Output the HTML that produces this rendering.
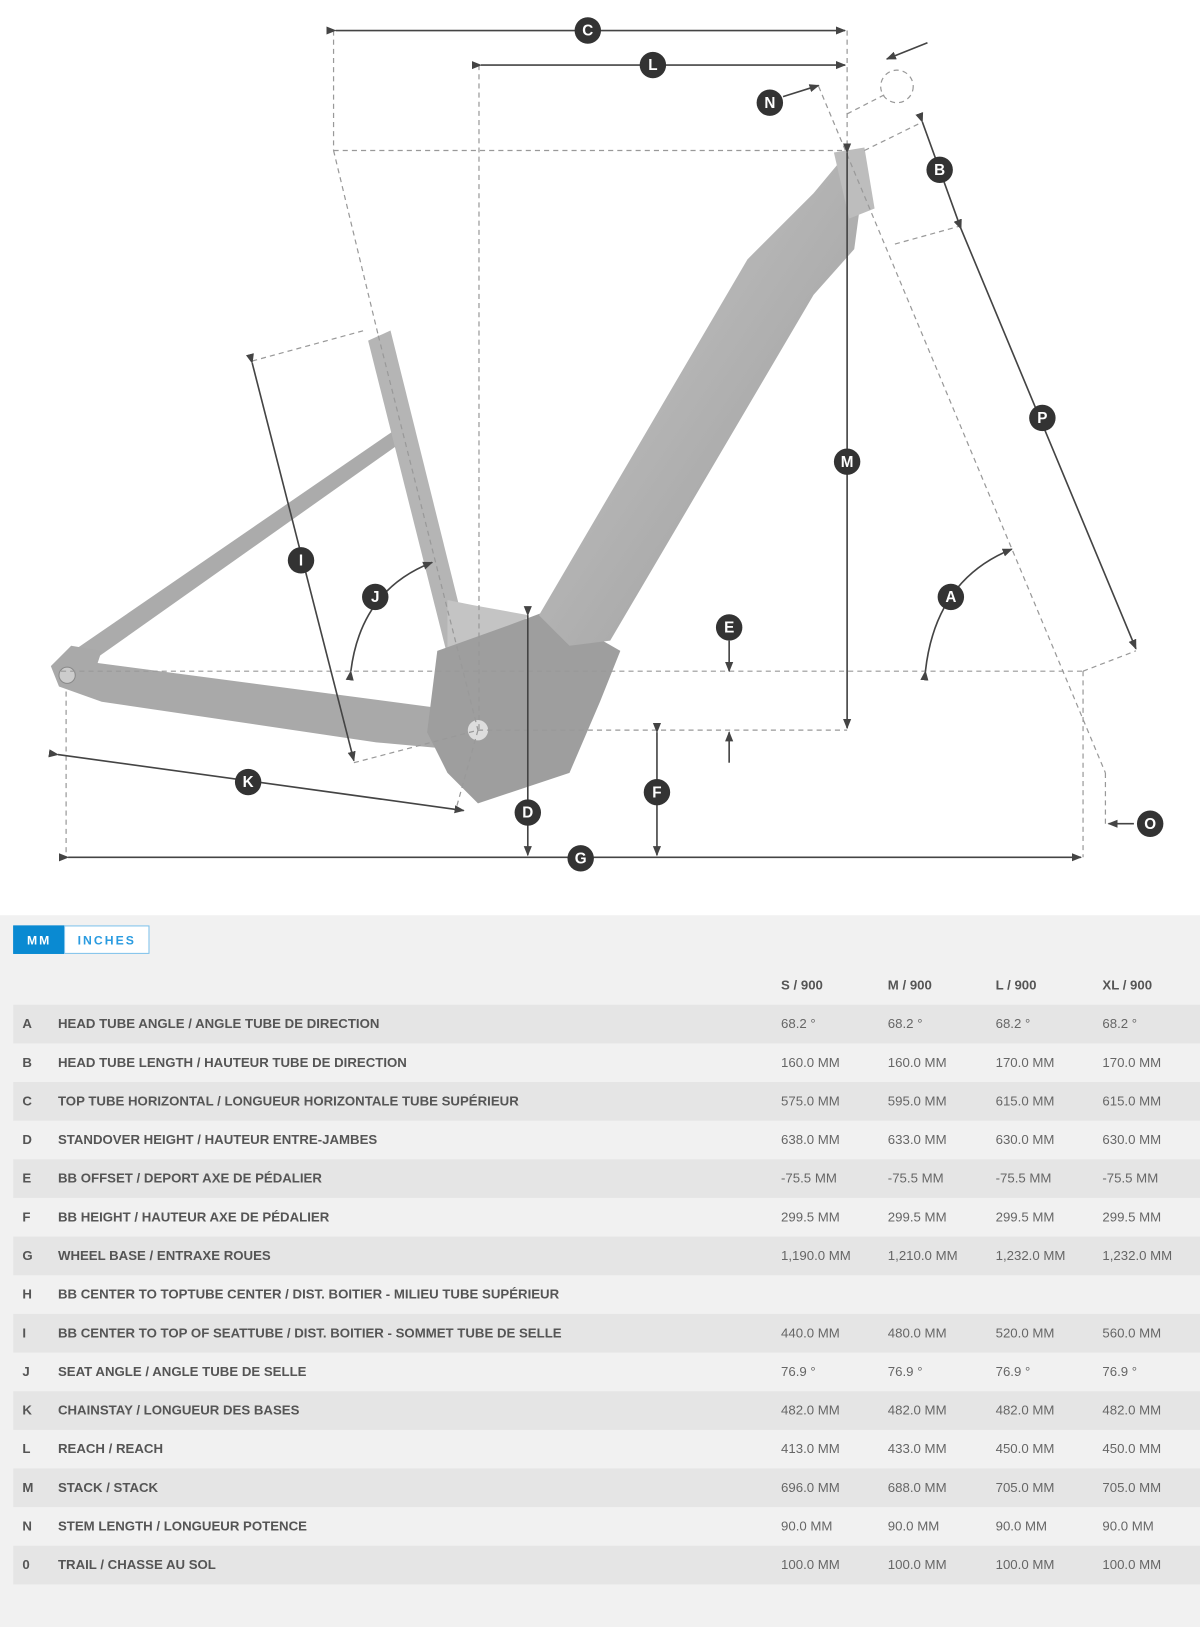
<!DOCTYPE html>
<html><head><meta charset="utf-8"><style>
body{margin:0;width:1200px;height:1594px;background:#fff;font-family:"Liberation Sans",sans-serif;position:relative;overflow:hidden}
#wrap{position:absolute;left:0;top:0;width:1180px;height:1568px;transform:scale(1.01695);transform-origin:0 0}
#diag{position:absolute;left:0;top:0}
#tbl{position:absolute;left:0;top:900px;width:1180px;height:700px;background:#f1f1f1}
.btn{position:absolute;top:910px;height:28px;font-size:12px;font-weight:bold;letter-spacing:2px;line-height:28px;box-sizing:border-box}
.row{position:absolute;left:13px;width:1167px;height:38px;line-height:38px;font-size:13px;color:#666}
.row.d{background:#e5e5e5}
.row span{position:absolute}
.l1{left:9px;font-weight:bold;color:#555}
.l2{left:44px;font-weight:bold;color:#555}
.c1{left:755px}.c2{left:860px}.c3{left:966px}.c4{left:1071px}
.hd span{font-weight:bold;color:#555}
</style></head><body><div id="wrap">
<svg id="diag" width="1180" height="900" viewBox="0 0 1180 900" font-family="Liberation Sans" >
<defs>
<marker id="a" markerWidth="10" markerHeight="10" refX="9" refY="5" orient="auto" markerUnits="userSpaceOnUse"><path d="M0,1 L10,5 L0,9 z" fill="#444"/></marker>
<linearGradient id="g1" x1="0" y1="0" x2="1" y2="1"><stop offset="0" stop-color="#c8c8c8"/><stop offset="1" stop-color="#9a9a9a"/></linearGradient>
</defs>
<g fill="#a9a9a9" stroke="none">
<polygon points="72,640 385,425 392,437 88,652" fill="#ababab"/>
<polygon points="50,655 70,635 100,640 96,652 460,700 500,720 480,740 370,730 100,690 58,675"/>
<polygon points="362,335 384,325 460,630 440,645" fill="#b5b5b5"/>
<polygon points="440,590 465,595 520,605 470,660 440,650" fill="#c4c4c4"/>
<polygon points="430,640 500,615 540,600 610,640 590,690 560,760 470,790 440,760 420,720" fill="#9e9e9e"/>
<polygon points="530,605 735,255 800,190 825,160 850,170 840,245 800,290 600,630 560,635" fill="url(#g1)"/>
<polygon points="820,150 850,145 860,205 835,215" fill="#bdbdbd"/>
<circle cx="470" cy="718" r="10" fill="#ddd"/>
<circle cx="66" cy="664" r="8" fill="#ccc" stroke="#888"/>
</g>
<g stroke="#999" stroke-width="1.2" stroke-dasharray="5,4" fill="none">
<line x1="328" y1="30" x2="328" y2="148"/>
<line x1="328" y1="148" x2="833" y2="148"/>
<line x1="328" y1="148" x2="372" y2="330"/>
<line x1="471" y1="64" x2="471" y2="718"/>
<line x1="833" y1="30" x2="833" y2="148"/>
<line x1="60" y1="660" x2="1065" y2="660"/>
<line x1="470" y1="718" x2="833" y2="718"/>
<line x1="65" y1="680" x2="65" y2="843"/>
<line x1="1065" y1="660" x2="1065" y2="843"/>
<line x1="1065" y1="660" x2="1117" y2="640"/>
<line x1="805" y1="85" x2="1087" y2="760"/>
<line x1="1087" y1="760" x2="1087" y2="810"/>
<line x1="833" y1="112" x2="872" y2="92"/>
<circle cx="882" cy="85" r="16"/>
<line x1="850" y1="148" x2="907" y2="120"/>
<line x1="880" y1="240" x2="945" y2="222"/>
<line x1="248" y1="355" x2="358" y2="325"/>
<line x1="372" y1="330" x2="470" y2="718"/>
<line x1="348" y1="750" x2="470" y2="718"/>
<line x1="470" y1="718" x2="448" y2="797"/>
</g>
<g stroke="#444" stroke-width="1.6" fill="none" marker-end="url(#a)" marker-start="url(#a)">
<line x1="330" y1="30" x2="831" y2="30"/>
<line x1="473" y1="64" x2="831" y2="64"/>
<line x1="907" y1="120" x2="945" y2="225"/>
<line x1="945" y1="225" x2="1117" y2="638"/>
<line x1="833" y1="150" x2="833" y2="716"/>
<line x1="519" y1="605" x2="519" y2="841"/>
<line x1="646" y1="720" x2="646" y2="841"/>
<line x1="67" y1="843" x2="1063" y2="843"/>
<line x1="57" y1="742" x2="456" y2="797"/>
<line x1="248" y1="357" x2="348" y2="748"/>
<path d="M910,660 Q920,570 995,540"/>
<path d="M345,660 Q355,580 425,553"/>
</g>
<g stroke="#444" stroke-width="1.6" fill="none" marker-end="url(#a)">
<line x1="770" y1="95" x2="805" y2="84"/>
<line x1="912" y1="42" x2="872" y2="58"/>
<line x1="717" y1="630" x2="717" y2="660"/>
<line x1="717" y1="750" x2="717" y2="720"/>
<line x1="1115" y1="810" x2="1090" y2="810"/>
</g>
<g font-size="15" font-weight="bold" fill="#fff" text-anchor="middle">
<g fill="#333"><circle cx="578" cy="30" r="13"/><circle cx="642" cy="64" r="13"/><circle cx="757" cy="101" r="13"/><circle cx="924" cy="167" r="13"/><circle cx="1025" cy="411" r="13"/><circle cx="833" cy="454" r="13"/><circle cx="935" cy="587" r="13"/><circle cx="717" cy="617" r="13"/><circle cx="646" cy="779" r="13"/><circle cx="519" cy="799" r="13"/><circle cx="571" cy="844" r="13"/><circle cx="244" cy="769" r="13"/><circle cx="296" cy="551" r="13"/><circle cx="369" cy="587" r="13"/><circle cx="1131" cy="810" r="13"/></g>
<text x="578" y="35">C</text><text x="642" y="69">L</text><text x="757" y="106">N</text><text x="924" y="172">B</text><text x="1025" y="416">P</text><text x="833" y="459">M</text><text x="935" y="592">A</text><text x="717" y="622">E</text><text x="646" y="784">F</text><text x="519" y="804">D</text><text x="571" y="849">G</text><text x="244" y="774">K</text><text x="296" y="556">I</text><text x="369" y="592">J</text><text x="1131" y="815">O</text>
</g>
</svg>
<div id="tbl"></div>
<div class="btn" style="left:13px;width:51px;background:#0a8ad2;color:#fff;text-align:center;border:1px solid #0a8ad2">MM</div>
<div class="btn" style="left:63px;width:84px;background:#fff;color:#2a9be0;text-align:center;border:1px solid #7cc0ea">INCHES</div>
<div class="row hd" style="top:950px"><span class="c1">S / 900</span><span class="c2">M / 900</span><span class="c3">L / 900</span><span class="c4">XL / 900</span></div>
<div class="row d" style="top:988px"><span class="l1">A</span><span class="l2">HEAD TUBE ANGLE / ANGLE TUBE DE DIRECTION</span><span class="c1">68.2 °</span><span class="c2">68.2 °</span><span class="c3">68.2 °</span><span class="c4">68.2 °</span></div>
<div class="row" style="top:1026px"><span class="l1">B</span><span class="l2">HEAD TUBE LENGTH / HAUTEUR TUBE DE DIRECTION</span><span class="c1">160.0 MM</span><span class="c2">160.0 MM</span><span class="c3">170.0 MM</span><span class="c4">170.0 MM</span></div>
<div class="row d" style="top:1064px"><span class="l1">C</span><span class="l2">TOP TUBE HORIZONTAL / LONGUEUR HORIZONTALE TUBE SUPÉRIEUR</span><span class="c1">575.0 MM</span><span class="c2">595.0 MM</span><span class="c3">615.0 MM</span><span class="c4">615.0 MM</span></div>
<div class="row" style="top:1102px"><span class="l1">D</span><span class="l2">STANDOVER HEIGHT / HAUTEUR ENTRE-JAMBES</span><span class="c1">638.0 MM</span><span class="c2">633.0 MM</span><span class="c3">630.0 MM</span><span class="c4">630.0 MM</span></div>
<div class="row d" style="top:1140px"><span class="l1">E</span><span class="l2">BB OFFSET / DEPORT AXE DE PÉDALIER</span><span class="c1">-75.5 MM</span><span class="c2">-75.5 MM</span><span class="c3">-75.5 MM</span><span class="c4">-75.5 MM</span></div>
<div class="row" style="top:1178px"><span class="l1">F</span><span class="l2">BB HEIGHT / HAUTEUR AXE DE PÉDALIER</span><span class="c1">299.5 MM</span><span class="c2">299.5 MM</span><span class="c3">299.5 MM</span><span class="c4">299.5 MM</span></div>
<div class="row d" style="top:1216px"><span class="l1">G</span><span class="l2">WHEEL BASE / ENTRAXE ROUES</span><span class="c1">1,190.0 MM</span><span class="c2">1,210.0 MM</span><span class="c3">1,232.0 MM</span><span class="c4">1,232.0 MM</span></div>
<div class="row" style="top:1254px"><span class="l1">H</span><span class="l2">BB CENTER TO TOPTUBE CENTER / DIST. BOITIER - MILIEU TUBE SUPÉRIEUR</span></div>
<div class="row d" style="top:1292px"><span class="l1">I</span><span class="l2">BB CENTER TO TOP OF SEATTUBE / DIST. BOITIER - SOMMET TUBE DE SELLE</span><span class="c1">440.0 MM</span><span class="c2">480.0 MM</span><span class="c3">520.0 MM</span><span class="c4">560.0 MM</span></div>
<div class="row" style="top:1330px"><span class="l1">J</span><span class="l2">SEAT ANGLE / ANGLE TUBE DE SELLE</span><span class="c1">76.9 °</span><span class="c2">76.9 °</span><span class="c3">76.9 °</span><span class="c4">76.9 °</span></div>
<div class="row d" style="top:1368px"><span class="l1">K</span><span class="l2">CHAINSTAY / LONGUEUR DES BASES</span><span class="c1">482.0 MM</span><span class="c2">482.0 MM</span><span class="c3">482.0 MM</span><span class="c4">482.0 MM</span></div>
<div class="row" style="top:1406px"><span class="l1">L</span><span class="l2">REACH / REACH</span><span class="c1">413.0 MM</span><span class="c2">433.0 MM</span><span class="c3">450.0 MM</span><span class="c4">450.0 MM</span></div>
<div class="row d" style="top:1444px"><span class="l1">M</span><span class="l2">STACK / STACK</span><span class="c1">696.0 MM</span><span class="c2">688.0 MM</span><span class="c3">705.0 MM</span><span class="c4">705.0 MM</span></div>
<div class="row" style="top:1482px"><span class="l1">N</span><span class="l2">STEM LENGTH / LONGUEUR POTENCE</span><span class="c1">90.0 MM</span><span class="c2">90.0 MM</span><span class="c3">90.0 MM</span><span class="c4">90.0 MM</span></div>
<div class="row d" style="top:1520px"><span class="l1">0</span><span class="l2">TRAIL / CHASSE AU SOL</span><span class="c1">100.0 MM</span><span class="c2">100.0 MM</span><span class="c3">100.0 MM</span><span class="c4">100.0 MM</span></div>
</div></body></html>
